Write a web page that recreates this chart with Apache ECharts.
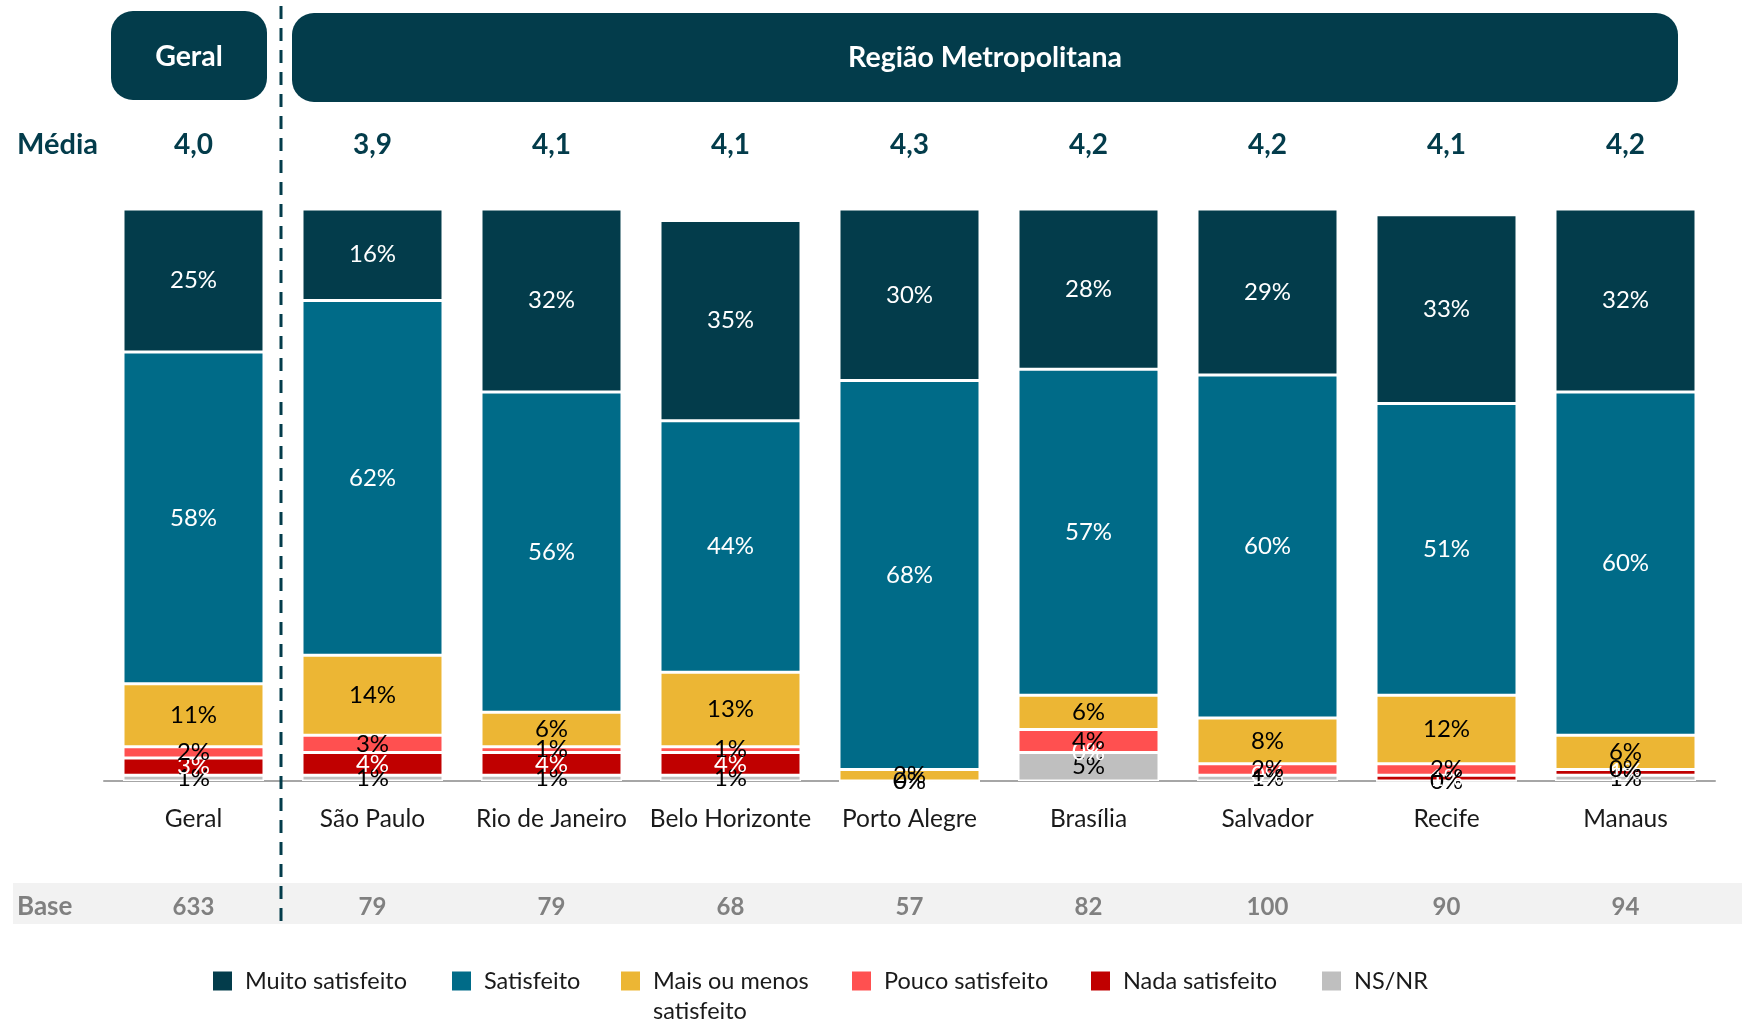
<!DOCTYPE html>
<html>
<head>
<meta charset="utf-8">
<script src="https://cdn.jsdelivr.net/npm/echarts@6/dist/echarts.min.js"></script>
<style>
  html, body { margin: 0; padding: 0; background: #ffffff; }
  #chart { width: 1742px; height: 1021px; }
</style>
</head>
<body>
<div id="chart"></div>
<script>
// Satisfaction by metropolitan region (stacked %, bottom to top: NS/NR -> Muito satisfeito)
const categories = ['Geral', 'São Paulo', 'Rio de Janeiro', 'Belo Horizonte', 'Porto Alegre', 'Brasília', 'Salvador', 'Recife', 'Manaus'];
const muitoSatisfeito = [25, 16, 32, 35, 30, 28, 29, 33, 32];
const satisfeito      = [58, 62, 56, 44, 68, 57, 60, 51, 60];
const maisOuMenos     = [11, 14, 6, 13, 2, 6, 8, 12, 6];
const poucoSatisfeito = [2, 3, 1, 1, 0, 4, 2, 2, 0];
const nadaSatisfeito  = [3, 4, 4, 4, 0, 0, 0, 1, 1];
const nsnr            = [1, 1, 1, 1, 0, 5, 1, 0, 1];
const media = ['4,0', '3,9', '4,1', '4,1', '4,3', '4,2', '4,2', '4,1', '4,2'];
const base = ['633', '79', '79', '68', '57', '82', '100', '90', '94'];

const FONT = 'Lato, "Open Sans", sans-serif';
const DARK = '#033c4b';

const seriesDefs = [
  { name: 'NS/NR', data: nsnr, color: '#bfbfbf', label: '#000000' },
  { name: 'Nada satisfeito', data: nadaSatisfeito, color: '#c00000', label: '#ffffff' },
  { name: 'Pouco satisfeito', data: poucoSatisfeito, color: '#ff5050', label: '#000000' },
  { name: 'Mais ou menos satisfeito', data: maisOuMenos, color: '#ecb634', label: '#000000' },
  { name: 'Satisfeito', data: satisfeito, color: '#006b88', label: '#ffffff' },
  { name: 'Muito satisfeito', data: muitoSatisfeito, color: DARK, label: '#ffffff' }
];

const series = seriesDefs.map(s => ({
  name: s.name,
  type: 'bar',
  stack: 'total',
  barWidth: 141,
  data: s.data,
  itemStyle: { color: s.color, borderColor: '#ffffff', borderWidth: 1.5 },
  label: {
    show: true,
    position: 'inside',
    formatter: '{c}%',
    color: s.label,
    fontFamily: FONT,
    fontSize: 24,
    textBorderWidth: 0
  },
  emphasis: { disabled: true }
}));

// legend entries: [series name, left x, top y]
const legendItems = [
  ['Muito satisfeito', 208, 961],
  ['Satisfeito', 447, 961],
  ['Mais ou menos satisfeito', 616, 931],
  ['Pouco satisfeito', 847, 961],
  ['Nada satisfeito', 1086, 961],
  ['NS/NR', 1317, 961]
];

const legend = legendItems.map(([name, left, top]) => {
  const multi = name === 'Mais ou menos satisfeito';
  return {
    left: left,
    top: top,
    itemWidth: 19,
    itemHeight: 19,
    icon: 'rect',
    selectedMode: false,
    data: [{ name: name, itemStyle: { borderWidth: 0 } }],
    // leading blank line keeps the first text line level with the swatch
    formatter: multi ? '\nMais ou menos\nsatisfeito' : '{name}',
    textStyle: { fontFamily: FONT, fontSize: 23.5, color: '#1a1a1a', padding: [0, 0, 0, 8], lineHeight: 30 }
  };
});

const option = {
  backgroundColor: '#ffffff',
  animation: false,
  grid: { left: 104, right: 27, top: 209, bottom: 240, containLabel: false },
  legend: legend,
  xAxis: [
    {
      type: 'category',
      data: categories,
      position: 'bottom',
      axisLine: { show: true, lineStyle: { color: '#a6a6a6', width: 2 } },
      axisTick: { show: false },
      axisLabel: { fontFamily: FONT, fontSize: 24.5, color: '#1a1a1a', margin: 38, verticalAlign: 'middle', interval: 0 }
    },
    {
      type: 'category',
      data: media,
      position: 'top',
      offset: 64,
      axisLine: { show: false },
      axisTick: { show: false },
      axisLabel: { fontFamily: FONT, fontSize: 28, fontWeight: 'bold', color: DARK, margin: 0, verticalAlign: 'middle', interval: 0 }
    },
    {
      type: 'category',
      data: base,
      position: 'bottom',
      offset: 126,
      axisLine: { show: false },
      axisTick: { show: false },
      axisLabel: { fontFamily: FONT, fontSize: 24, fontWeight: 'bold', color: '#808080', margin: 0, verticalAlign: 'middle', interval: 0 }
    }
  ],
  yAxis: { type: 'value', min: 0, max: 100, show: false, splitLine: { show: false } },
  graphic: [
    // Base row band
    { type: 'rect', z: -10, shape: { x: 13, y: 883, width: 1729, height: 41 }, style: { fill: '#f2f2f2' } },
    { type: 'text', style: { x: 17, y: 907, text: 'Base', verticalAlign: 'middle', fontFamily: FONT, fontSize: 26, fontWeight: 'bold', fill: '#808080' } },
    // header boxes
    { type: 'rect', shape: { x: 111, y: 11, width: 156, height: 89, r: 22 }, style: { fill: DARK } },
    { type: 'text', style: { x: 189, y: 57, text: 'Geral', align: 'center', verticalAlign: 'middle', fontFamily: FONT, fontSize: 28.5, fontWeight: 'bold', fill: '#ffffff' } },
    { type: 'rect', shape: { x: 292, y: 13, width: 1386, height: 89, r: 22 }, style: { fill: DARK } },
    { type: 'text', style: { x: 985, y: 58, text: 'Região Metropolitana', align: 'center', verticalAlign: 'middle', fontFamily: FONT, fontSize: 28.5, fontWeight: 'bold', fill: '#ffffff' } },
    // Média row title
    { type: 'text', style: { x: 17, y: 145, text: 'Média', verticalAlign: 'middle', fontFamily: FONT, fontSize: 29, fontWeight: 'bold', fill: DARK } },
    // separator between overall and regions
    { type: 'line', z: 10, shape: { x1: 281, y1: 6, x2: 281, y2: 922 }, style: { stroke: DARK, lineWidth: 3, lineDash: [13, 9] } }
  ],
  series: series
};

const chart = echarts.init(document.getElementById('chart'), null, { renderer: 'canvas' });
chart.setOption(option);
</script>
</body>
</html>
